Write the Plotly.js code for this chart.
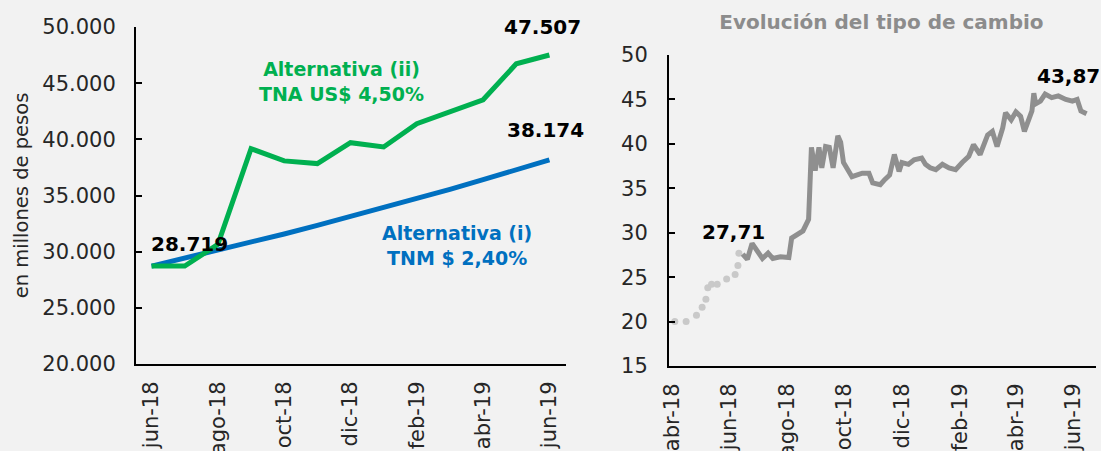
<!DOCTYPE html>
<html>
<head>
<meta charset="utf-8">
<script src="https://cdn.plot.ly/plotly-3.0.1.min.js"></script>
<style>
  html, body { margin: 0; padding: 0; background: #f2f2f2; }
  #chart { width: 1101px; height: 451px; }
</style>
</head>
<body>
<div id="chart"></div>
<script>
// ---- Left chart: investment alternatives (millones de pesos) ----
const months = ["jun-18","jul-18","ago-18","sep-18","oct-18","nov-18","dic-18","ene-19","feb-19","mar-19","abr-19","may-19","jun-19"];
const monthTicks = ["jun-18","ago-18","oct-18","dic-18","feb-19","abr-19","jun-19"];
const altII = [28719, 28719, 30650, 39170, 38080, 37840, 39700, 39320, 41390, 42430, 43520, 46720, 47507];
const altI  = [28719, 29408, 30114, 30837, 31577, 32335, 33111, 33906, 34719, 35552, 36406, 37279, 38174];
const leftTickVals = [20000, 25000, 30000, 35000, 40000, 45000, 50000];

// ---- Right chart: tipo de cambio ----
const dotDates = ["2018-04-04","2018-04-16","2018-04-27","2018-05-03","2018-05-07","2018-05-09","2018-05-13","2018-05-19","2018-05-29","2018-06-07","2018-06-10","2018-06-11"];
const dotRates = [20.0, 20.0, 20.7, 21.6, 22.5, 23.8, 24.2, 24.2, 24.8, 25.3, 26.3, 27.7];
const fxDates = ["2018-06-15","2018-06-20","2018-06-25","2018-07-01","2018-07-06","2018-07-12","2018-07-17","2018-07-25","2018-08-03","2018-08-06","2018-08-11","2018-08-18","2018-08-24","2018-08-27","2018-08-31","2018-09-04","2018-09-07","2018-09-11","2018-09-15","2018-09-19","2018-09-24","2018-09-27","2018-09-30","2018-10-05","2018-10-09","2018-10-20","2018-10-27","2018-10-31","2018-11-08","2018-11-13","2018-11-18","2018-11-23","2018-11-28","2018-12-01","2018-12-08","2018-12-14","2018-12-22","2018-12-26","2018-12-31","2019-01-06","2019-01-13","2019-01-20","2019-01-27","2019-02-03","2019-02-10","2019-02-15","2019-02-22","2019-03-02","2019-03-07","2019-03-12","2019-03-18","2019-03-21","2019-03-27","2019-04-01","2019-04-06","2019-04-10","2019-04-15","2019-04-18","2019-04-20","2019-04-22","2019-04-27","2019-05-02","2019-05-09","2019-05-16","2019-05-24","2019-05-31","2019-06-05","2019-06-09","2019-06-15"];
const fxRates = [27.6, 27.0, 28.8, 27.8, 27.1, 27.7, 27.1, 27.3, 27.2, 29.4, 29.8, 30.2, 31.5, 39.6, 37.0, 39.6, 37.3, 39.7, 39.6, 37.3, 40.9, 40.2, 37.9, 36.9, 36.3, 36.7, 36.7, 35.6, 35.4, 36.0, 36.5, 38.8, 36.9, 37.9, 37.7, 38.2, 38.4, 37.7, 37.3, 37.1, 37.7, 37.3, 37.1, 37.9, 38.6, 39.9, 38.8, 41.0, 41.4, 39.7, 41.8, 43.5, 42.7, 43.6, 43.1, 41.4, 42.7, 43.7, 45.7, 44.5, 44.8, 45.6, 45.2, 45.4, 45.0, 44.8, 45.0, 43.7, 43.4];
const fxTickVals = ["2018-04-01","2018-06-01","2018-08-01","2018-10-01","2018-12-01","2019-02-01","2019-04-01","2019-06-01"];
const fxTickText = ["abr-18","jun-18","ago-18","oct-18","dic-18","feb-19","abr-19","jun-19"];
const fxLabels = ["27,71", "43,87"];

const fmt = n => String(n).replace(/\B(?=(\d{3})+(?!\d))/g, ".");
const FONT = "'DejaVu Sans', sans-serif";
const last = a => a[a.length - 1];

const traces = [
  { x: months, y: altI, type: "scatter", mode: "lines", line: { color: "#0070c0", width: 5 }, xaxis: "x", yaxis: "y", hoverinfo: "skip" },
  { x: months, y: altII, type: "scatter", mode: "lines", line: { color: "#00b050", width: 5 }, xaxis: "x", yaxis: "y", hoverinfo: "skip" },
  { x: dotDates, y: dotRates, type: "scatter", mode: "markers", marker: { color: "#c9c9c9", size: 7 }, xaxis: "x2", yaxis: "y2", hoverinfo: "skip" },
  { x: fxDates, y: fxRates, type: "scatter", mode: "lines", line: { color: "#8f8f8f", width: 5 }, xaxis: "x2", yaxis: "y2", hoverinfo: "skip" }
];

const axisCommon = {
  showline: true, linecolor: "#000000", linewidth: 2, showgrid: false, zeroline: false,
  tickfont: { family: FONT, size: 21, color: "#262626" }
};

const layout = {
  width: 1101, height: 451,
  paper_bgcolor: "#f2f2f2", plot_bgcolor: "#f2f2f2",
  separators: ",.",
  showlegend: false,
  margin: { l: 136, r: 5, t: 27, b: 85 },
  title: { text: "<b>Evolución del tipo de cambio</b>", x: 0.8006, xref: "container", xanchor: "center", y: 0.951, yref: "container", yanchor: "middle",
           font: { family: FONT, size: 20, color: "#8c8c8c" } },
  xaxis: Object.assign({}, axisCommon, {
    domain: [0, 0.4479], type: "category", range: [-0.47, 12.5],
    tickmode: "array", tickvals: monthTicks, ticktext: monthTicks, tickangle: -90, ticks: "", ticklabelstandoff: 7
  }),
  yaxis: Object.assign({}, axisCommon, {
    domain: [0.0059, 1], range: [20000, 50000], tickmode: "array", tickvals: leftTickVals,
    tickformat: ",d", ticks: "inside", ticklen: 6, tickwidth: 2, tickcolor: "#000000", ticklabelstandoff: 14,
    title: { text: "en millones de pesos", standoff: 8, font: { family: FONT, size: 19.5, color: "#262626" } }
  }),
  xaxis2: Object.assign({}, axisCommon, {
    domain: [0.5552, 1], type: "date", range: ["2018-03-28 20:00", "2019-06-25"],
    tickmode: "array", tickvals: fxTickVals, ticktext: fxTickText, tickangle: -90, ticks: "", anchor: "y2", ticklabelstandoff: 7
  }),
  yaxis2: Object.assign({}, axisCommon, {
    domain: [0, 0.9174], range: [15, 50], dtick: 5, tick0: 15, anchor: "x2",
    ticks: "inside", ticklen: 6, tickwidth: 2, tickcolor: "#000000", ticklabelstandoff: 15
  }),
  annotations: [
    { xref: "x", yref: "y", x: months[0], y: altII[0], text: "<b>" + fmt(altII[0]) + "</b>", showarrow: false,
      xanchor: "left", yanchor: "bottom", xshift: -3, yshift: 8, font: { family: FONT, size: 20, color: "#000" } },
    { xref: "x", yref: "y", x: last(months), y: last(altII), text: "<b>" + fmt(last(altII)) + "</b>", showarrow: false,
      xanchor: "center", yanchor: "middle", xshift: -7, yshift: 28, font: { family: FONT, size: 20, color: "#000" } },
    { xref: "x", yref: "y", x: last(months), y: last(altI), text: "<b>" + fmt(last(altI)) + "</b>", showarrow: false,
      xanchor: "center", yanchor: "middle", xshift: -4, yshift: 30, font: { family: FONT, size: 20, color: "#000" } },
    { xref: "paper", yref: "paper", x: (341 - 136) / 960, y: (366 - 82) / 339, text: "<b>Alternativa (ii)<br>TNA US$ 4,50%</b>", showarrow: false,
      xanchor: "center", yanchor: "middle", font: { family: FONT, size: 19, color: "#00b050" } },
    { xref: "paper", yref: "paper", x: (457 - 136) / 960, y: (366 - 245) / 339, text: "<b>Alternativa (i)<br>TNM $ 2,40%</b>", showarrow: false,
      xanchor: "center", yanchor: "middle", font: { family: FONT, size: 19, color: "#0070c0" } },
    { xref: "x2", yref: "y2", x: last(dotDates), y: last(dotRates), text: "<b>" + fxLabels[0] + "</b>", showarrow: false,
      xanchor: "center", yanchor: "middle", xshift: -5, yshift: 21, font: { family: FONT, size: 20, color: "#000" } },
    { xref: "x2", yref: "y2", x: last(fxDates), y: last(fxRates), text: "<b>" + fxLabels[1] + "</b>", showarrow: false,
      xanchor: "center", yanchor: "middle", xshift: -18, yshift: 38, font: { family: FONT, size: 20, color: "#000" } }
  ]
};

Plotly.newPlot("chart", traces, layout, { staticPlot: true, displayModeBar: false });
</script>
</body>
</html>
